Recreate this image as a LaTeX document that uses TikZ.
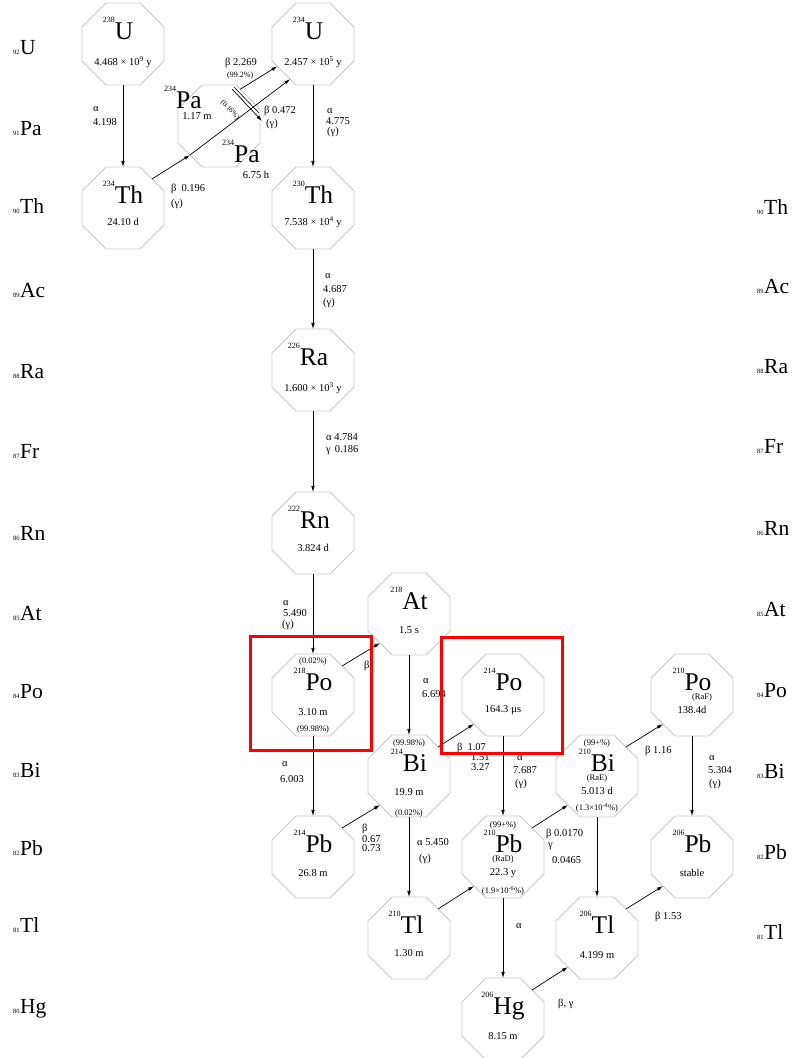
\documentclass[tikz,border=0pt]{standalone}
\usepackage{fontspec}
\setmainfont{Liberation Serif}
\usetikzlibrary{shapes.geometric,arrows.meta,calc}
\definecolor{octgray}{RGB}{200,200,200}
\definecolor{boxred}{RGB}{255,0,0}
\newcommand\nuclide[8]{%
  \node[nuc] (#1) at (#2,#3) {};
  \node[symb] (#1-s) at ($(#1.center)+(#7,-5)$) {\raisebox{17pt}{\fontsize{8}{8}\selectfont #4}#5};
  \node[hl] (#1-h) at ($(#1.center)+(0,#8)$) {#6};}
\newcommand\elem[5]{%
  \node[elem] (#1) at (#2,#3) {{\fontsize{6.5}{6.5}\selectfont #4}\kern0.5pt#5};}
\begin{document}
\begin{tikzpicture}[x=1pt,y=-1pt,
  nuc/.style={draw=octgray,line width=0.8pt,regular polygon,regular polygon sides=8,minimum size=88.8pt,inner sep=0pt,outer sep=0pt},
  symb/.style={anchor=base,inner sep=0pt,font=\fontsize{25.5}{26}\selectfont},
  hl/.style={anchor=center,inner sep=0pt,font=\fontsize{10.5}{12}\selectfont},
  pct/.style={anchor=center,inner sep=0pt,font=\fontsize{8.5}{9}\selectfont},
  ann/.style={anchor=base west,inner sep=0pt,font=\fontsize{10.5}{12}\selectfont},
  sann/.style={anchor=base west,inner sep=0pt,font=\fontsize{8}{9}\selectfont},
  elem/.style={anchor=base west,inner sep=0pt,font=\fontsize{21.5}{22}\selectfont},
  decay/.style={-{Latex[length=6pt,width=3.6pt]},line width=0.7pt,black},
  redbox/.style={draw=boxred,line width=3pt},
]
\useasboundingbox (0,0) rectangle (792,1058);
\clip (0,0) rectangle (792,1058);

% element labels, left
\elem{L92}{13}{54}{92}{U}
\elem{L91}{13}{135}{91}{Pa}
\elem{L90}{13}{213}{90}{Th}
\elem{L89}{13}{297}{89}{Ac}
\elem{L88}{13}{378}{88}{Ra}
\elem{L87}{13}{458}{87}{Fr}
\elem{L86}{13}{540}{86}{Rn}
\elem{L85}{13}{620}{85}{At}
\elem{L84}{13}{698}{84}{Po}
\elem{L83}{13}{777}{83}{Bi}
\elem{L82}{13}{855}{82}{Pb}
\elem{L81}{13}{932}{81}{Tl}
\elem{L80}{13}{1013}{80}{Hg}
% element labels, right (cut by the right edge)
\elem{R90}{757}{214}{90}{Th}
\elem{R89}{757}{293}{89}{Ac}
\elem{R88}{757}{373}{88}{Ra}
\elem{R87}{757}{453}{87}{Fr}
\elem{R86}{757}{535}{86}{Rn}
\elem{R85}{757}{616}{85}{At}
\elem{R84}{757}{697}{84}{Po}
\elem{R83}{757}{778}{83}{Bi}
\elem{R82}{757}{859}{82}{Pb}
\elem{R81}{757}{939}{81}{Tl}

% nuclides
\nuclide{U238}{123}{44}{238}{U}{4.468 × 10\textsuperscript{9} y}{-5}{18}
\nuclide{Th234}{123}{208}{234}{Th}{24.10 d}{0}{14}
\nuclide{U234}{313}{44}{234}{U}{2.457 × 10\textsuperscript{5} y}{-5}{18}
\nuclide{Th230}{313}{208}{230}{Th}{7.538 × 10\textsuperscript{4} y}{0}{14}
\nuclide{Ra226}{313}{370}{226}{Ra}{1.600 × 10\textsuperscript{3} y}{-5}{18}
\nuclide{Rn222}{313}{533}{222}{Rn}{3.824 d}{-4}{15}
\nuclide{At218}{409}{614}{218}{At}{1.5 s}{0}{16}
\nuclide{Po218}{313}{695}{218}{Po}{3.10 m}{0}{17}
\nuclide{Po214}{503}{695}{214}{Po}{164.3 µs}{0}{15}
\nuclide{Bi214}{409}{776}{214}{Bi}{19.9 m}{0}{16}
\nuclide{Pb214}{313}{857}{214}{Pb}{26.8 m}{0}{16}
\nuclide{Tl210}{409}{938}{210}{Tl}{1.30 m}{-3}{15}
\nuclide{Pb210}{503}{857}{210}{Pb}{22.3 y}{0}{16}
\nuclide{Hg206}{503}{1019}{206}{Hg}{8.15 m}{0}{17}
\nuclide{Bi210}{597}{776}{210}{Bi}{5.013 d}{0}{15}
\nuclide{Tl206}{597}{938}{206}{Tl}{4.199 m}{0}{17}
\nuclide{Po210}{692}{695}{210}{Po}{138.4d}{0}{15}
\nuclide{Pb206}{692}{857}{206}{Pb}{stable}{0}{16}

% Pa-234 (two isomers in one octagon)
\node[nuc] (Pa234) at (219,126) {};
\node[symb,anchor=base west] (Pa234m-s) at (164,108) {\raisebox{17pt}{\fontsize{8}{8}\selectfont 234}Pa};
\node[hl] (Pa234m-h) at (197,116) {1.17 m};
\node[symb,anchor=base west] (Pa234g-s) at (222,162) {\raisebox{17pt}{\fontsize{8}{8}\selectfont 234}Pa};
\node[hl] (Pa234g-h) at (256,175) {6.75 h};

% branching percentages and old names
\node[pct] (Po218-t) at (313,661) {(0.02\%)};
\node[pct] (Po218-b) at (313,729) {(99.98\%)};
\node[pct] (Bi214-t) at (409,743) {(99.98\%)};
\node[pct] (Bi214-b) at (409,813) {(0.02\%)};
\node[pct] (Pb210-t) at (503,825) {(99+\%)};
\node[pct] (Pb210-r) at (503,859) {(RaD)};
\node[pct] (Pb210-b) at (503,891) {(1.9×10\textsuperscript{-6}\%)};
\node[pct] (Bi210-t) at (597,743) {(99+\%)};
\node[pct] (Bi210-r) at (597,778) {(RaE)};
\node[pct] (Bi210-b) at (597,808) {(1.3×10\textsuperscript{-4}\%)};
\node[pct] (Po210-r) at (702,697) {(RaF)};

% decay connectors
\draw[decay] (U238) -- (Th234);
\draw[decay] (Th234.45) -- (Pa234.225);
\draw[decay] (Pa234.225) -- (U234.237);
\draw[decay] (Pa234.60) -- (U234.212);
\coordinate (IT1) at (232,89);
\coordinate (IT2) at (262,121);
\coordinate (IT3) at (234,87);
\coordinate (IT4) at (259,113);
\draw[decay] (IT1) -- (IT2);
\draw[line width=0.6pt] (IT3) -- (IT4);
\draw[decay] (U234) -- (Th230);
\draw[decay] (Th230) -- (Ra226);
\draw[decay] (Ra226) -- (Rn222);
\draw[decay] (Rn222) -- (Po218);
\draw[decay] (Po218.45) -- (At218.225);
\draw[decay] (Po218) -- (Pb214);
\draw[decay] (At218) -- (Bi214);
\draw[decay] (Pb214.45) -- (Bi214.225);
\draw[decay] (Bi214.45) -- (Po214.225);
\draw[decay] (Bi214) -- (Tl210);
\draw[decay] (Po214) -- (Pb210);
\draw[decay] (Tl210.45) -- (Pb210.225);
\draw[decay] (Pb210.45) -- (Bi210.225);
\draw[decay] (Pb210) -- (Hg206);
\draw[decay] (Bi210.45) -- (Po210.225);
\draw[decay] (Bi210) -- (Tl206);
\draw[decay] (Po210) -- (Pb206);
\draw[decay] (Tl206.45) -- (Pb206.225);
\draw[decay] (Hg206.45) -- (Tl206.225);

% connector labels
\node[ann] (a1a) at (93,111) {α};
\node[ann] (a1b) at (93,125) {4.198};
\node[ann] (a2a) at (171,191) {β\hspace{5pt}0.196};
\node[ann] (a2b) at (171,206) {(γ)};
\node[ann] (a3a) at (225,65) {β 2.269};
\node[sann] (a3b) at (227,77) {(99.2\%)};
\node[inner sep=0pt,font=\fontsize{7.5}{8}\selectfont,rotate=-48] (a4) at (230,110) {(0.16\%)};
\node[ann] (a5a) at (264,113) {β 0.472};
\node[ann] (a5b) at (266,126) {(γ)};
\node[ann] (a6a) at (327,113) {α};
\node[ann] (a6b) at (326,124) {4.775};
\node[ann] (a6c) at (327,134) {(γ)};
\node[ann] (a7a) at (325,278) {α};
\node[ann] (a7b) at (323,292) {4.687};
\node[ann] (a7c) at (323,305) {(γ)};
\node[ann] (a8a) at (326,440) {α 4.784};
\node[ann] (a8b) at (326,452) {γ\hspace{4pt}0.186};
\node[ann] (a9a) at (283,605) {α};
\node[ann] (a9b) at (283,616) {5.490};
\node[ann] (a9c) at (282,627) {(γ)};
\node[ann] (a10) at (364,668) {β};
\node[ann] (a11a) at (423,683) {α};
\node[ann] (a11b) at (422,697) {6.694};
\node[ann] (a12a) at (282,766) {α};
\node[ann] (a12b) at (280,782) {6.003};
\node[ann] (a13a) at (457,750) {β\hspace{5pt}1.07};
\node[ann] (a13b) at (471,760) {1.51};
\node[ann] (a13c) at (471,770) {3.27};
\node[ann] (a14a) at (517,760) {α};
\node[ann] (a14b) at (513,773) {7.687};
\node[ann] (a14c) at (515,786) {(γ)};
\node[ann] (a15a) at (362,831) {β};
\node[ann] (a15b) at (362,842) {0.67};
\node[ann] (a15c) at (362,851) {0.73};
\node[ann] (a16a) at (417,845) {α 5.450};
\node[ann] (a16b) at (419,861) {(γ)};
\node[ann] (a17a) at (546,836) {β 0.0170};
\node[ann] (a17b) at (548,847) {γ};
\node[ann] (a17c) at (552,863) {0.0465};
\node[ann] (a18) at (645,753) {β 1.16};
\node[ann] (a19a) at (709,760) {α};
\node[ann] (a19b) at (708,773) {5.304};
\node[ann] (a19c) at (709,786) {(γ)};
\node[ann] (a20) at (655,919) {β 1.53};
\node[ann] (a21) at (516,928) {α};
\node[ann] (a22) at (558,1006) {β, γ};

% red highlight frames
\draw[redbox] (250,636) rectangle (371,750);
\draw[redbox] (441,637) rectangle (562,753);
\end{tikzpicture}
\end{document}
